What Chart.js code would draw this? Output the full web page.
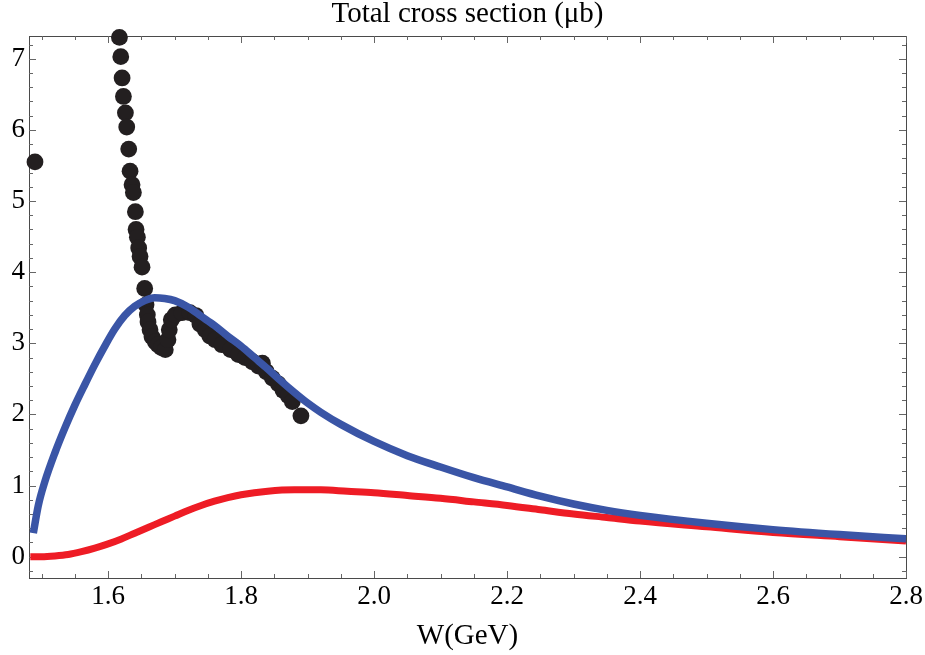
<!DOCTYPE html>
<html>
<head>
<meta charset="utf-8">
<script src="https://cdn.jsdelivr.net/npm/chart.js@4/dist/chart.umd.min.js"></script>
<style>
  html, body { margin: 0; padding: 0; background: #fff; }
  #wrap { width: 925px; height: 655px; }
</style>
</head>
<body>
<div id="wrap"><canvas id="c" width="925" height="655"></canvas></div>
<script>
// ---- data ----
const chartTitle = 'Total cross section (\u03bcb)';
const xAxisTitle = 'W(GeV)';
const xTickValues = [1.6, 1.8, 2.0, 2.2, 2.4, 2.6, 2.8];
const yTickValues = [0, 1, 2, 3, 4, 5, 6, 7];

// measured data points (W in GeV, sigma in microbarn)
const dataW = [1.490, 1.617, 1.619, 1.621, 1.623, 1.626, 1.628, 1.631, 1.633, 1.636, 1.638, 1.641, 1.642, 1.644, 1.646, 1.648, 1.651, 1.655, 1.657, 1.659, 1.660, 1.663, 1.666, 1.671, 1.675, 1.680, 1.686, 1.690, 1.692, 1.695, 1.701, 1.711, 1.723, 1.732, 1.738, 1.746, 1.753, 1.761, 1.771, 1.784, 1.796, 1.806, 1.817, 1.826, 1.832, 1.838, 1.847, 1.856, 1.863, 1.871, 1.877, 1.890];
const dataSigma = [5.55, 7.30, 7.03, 6.73, 6.47, 6.24, 6.04, 5.73, 5.42, 5.23, 5.12, 4.85, 4.60, 4.49, 4.34, 4.22, 4.07, 3.77, 3.54, 3.40, 3.30, 3.19, 3.09, 3.02, 2.98, 2.94, 2.91, 3.05, 3.19, 3.33, 3.40, 3.43, 3.43, 3.39, 3.27, 3.19, 3.10, 3.05, 2.98, 2.91, 2.84, 2.80, 2.74, 2.68, 2.72, 2.60, 2.51, 2.43, 2.34, 2.26, 2.18, 1.98];

// blue curve
const blueW = [1.4875, 1.495, 1.505, 1.52, 1.535, 1.55, 1.565, 1.58, 1.595, 1.61, 1.625, 1.64, 1.655, 1.67, 1.685, 1.70, 1.72, 1.74, 1.76, 1.78, 1.80, 1.82, 1.84, 1.86, 1.88, 1.90, 1.92, 1.95, 2.00, 2.05, 2.10, 2.15, 2.20, 2.25, 2.30, 2.35, 2.40, 2.50, 2.60, 2.70, 2.80];
const blueSigma = [0.33, 0.72, 1.06, 1.46, 1.81, 2.13, 2.42, 2.70, 2.96, 3.20, 3.39, 3.52, 3.60, 3.64, 3.63, 3.60, 3.51, 3.38, 3.25, 3.10, 2.96, 2.80, 2.64, 2.47, 2.31, 2.16, 2.03, 1.86, 1.62, 1.42, 1.26, 1.11, 0.98, 0.85, 0.74, 0.65, 0.58, 0.47, 0.38, 0.31, 0.25];

// red curve
const redW = [1.483, 1.50, 1.52, 1.54, 1.56, 1.58, 1.60, 1.62, 1.64, 1.66, 1.68, 1.70, 1.72, 1.74, 1.76, 1.78, 1.80, 1.84, 1.88, 1.92, 1.96, 2.00, 2.05, 2.10, 2.15, 2.20, 2.25, 2.30, 2.35, 2.40, 2.50, 2.60, 2.70, 2.80];
const redSigma = [0.00, 0.00, 0.01, 0.03, 0.07, 0.12, 0.18, 0.25, 0.33, 0.41, 0.49, 0.57, 0.65, 0.72, 0.78, 0.83, 0.87, 0.92, 0.94, 0.94, 0.92, 0.90, 0.86, 0.82, 0.77, 0.72, 0.66, 0.60, 0.55, 0.50, 0.42, 0.34, 0.28, 0.22];

const xMin = 1.481, xMax = 2.8, yMin = -0.30, yMax = 7.32;

const pts = (xs, ys) => xs.map((v, i) => ({ x: v, y: ys[i] }));

const SERIF = '"Liberation Serif", "DejaVu Serif", serif';

// frame with inward ticks (Mathematica style)
const framePlugin = {
  id: 'frameTicks',
  beforeDatasetsDraw(chart) {
    const { ctx, chartArea: a, scales } = chart;
    const x = scales.x, y = scales.y;
    ctx.save();
    ctx.strokeStyle = '#4a4a4a';
    ctx.lineWidth = 1;
    ctx.strokeRect(Math.round(a.left) + 0.5, Math.round(a.top) + 0.5,
                   Math.round(a.right - a.left), Math.round(a.bottom - a.top));
    ctx.strokeStyle = '#666';
    ctx.beginPath();
    for (let k = Math.ceil(x.min * 20 - 1e-9); k <= Math.floor(x.max * 20 + 1e-9); k++) {
      const px = Math.round(x.getPixelForValue(k / 20)) + 0.5;
      const len = (k % 4 === 0) ? 7 : 4;
      ctx.moveTo(px, a.bottom); ctx.lineTo(px, a.bottom - len);
      ctx.moveTo(px, a.top); ctx.lineTo(px, a.top + len);
    }
    for (let k = Math.ceil(y.min * 5 - 1e-9); k <= Math.floor(y.max * 5 + 1e-9); k++) {
      const py = Math.round(y.getPixelForValue(k / 5)) + 0.5;
      const len = (k % 5 === 0) ? 7 : 4;
      ctx.moveTo(a.left, py); ctx.lineTo(a.left + len, py);
      ctx.moveTo(a.right, py); ctx.lineTo(a.right - len, py);
    }
    ctx.stroke();
    ctx.restore();
  }
};

new Chart(document.getElementById('c'), {
  type: 'scatter',
  data: {
    datasets: [
      {
        type: 'line',
        label: 'blue',
        data: pts(blueW, blueSigma),
        borderColor: '#3a55a6',
        borderWidth: 7.5,
        pointRadius: 0,
        fill: false,
        cubicInterpolationMode: 'monotone',
        order: 0
      },
      {
        type: 'line',
        label: 'red',
        data: pts(redW, redSigma),
        borderColor: '#ee1c25',
        borderWidth: 7,
        pointRadius: 0,
        fill: false,
        cubicInterpolationMode: 'monotone',
        order: 1
      },
      {
        type: 'scatter',
        label: 'data',
        data: pts(dataW, dataSigma),
        backgroundColor: '#231f20',
        borderWidth: 0,
        pointRadius: 8.4,
        pointHoverRadius: 8.4,
        clip: false,
        order: 2
      }
    ]
  },
  options: {
    responsive: false,
    animation: false,
    devicePixelRatio: 1,
    layout: { padding: { left: 0, right: 19, top: 0, bottom: 0 } },
    plugins: {
      legend: { display: false },
      tooltip: { enabled: false },
      title: {
        display: true,
        text: chartTitle,
        fullSize: false,
        color: '#000',
        font: { family: SERIF, size: 29, weight: 'normal', lineHeight: 1 },
        padding: { top: 0, bottom: 7 }
      }
    },
    scales: {
      x: {
        type: 'linear',
        min: xMin, max: xMax,
        grid: { display: false, drawTicks: false },
        border: { display: false },
        afterBuildTicks: s => { s.ticks = xTickValues.map(v => ({ value: v })); },
        afterFit: s => { s.height = 77; s.paddingLeft = 0; s.paddingRight = 0; },
        ticks: {
          color: '#000',
          padding: 5,
          maxRotation: 0,
          autoSkip: false,
          font: { family: SERIF, size: 27, lineHeight: 1 },
          callback: v => Number(v).toFixed(1)
        },
        title: {
          display: true,
          text: xAxisTitle,
          color: '#000',
          font: { family: SERIF, size: 29, lineHeight: 1 },
          padding: { top: 0, bottom: 4 }
        }
      },
      y: {
        type: 'linear',
        min: yMin, max: yMax,
        grid: { display: false, drawTicks: false },
        border: { display: false },
        afterBuildTicks: s => { s.ticks = yTickValues.map(v => ({ value: v })); },
        afterFit: s => { s.width = 29; s.paddingTop = 0; s.paddingBottom = 0; },
        ticks: {
          color: '#000',
          padding: 4,
          autoSkip: false,
          font: { family: SERIF, size: 27, lineHeight: 1 },
          callback: v => String(Math.round(v))
        }
      }
    }
  },
  plugins: [framePlugin]
});
</script>
</body>
</html>
